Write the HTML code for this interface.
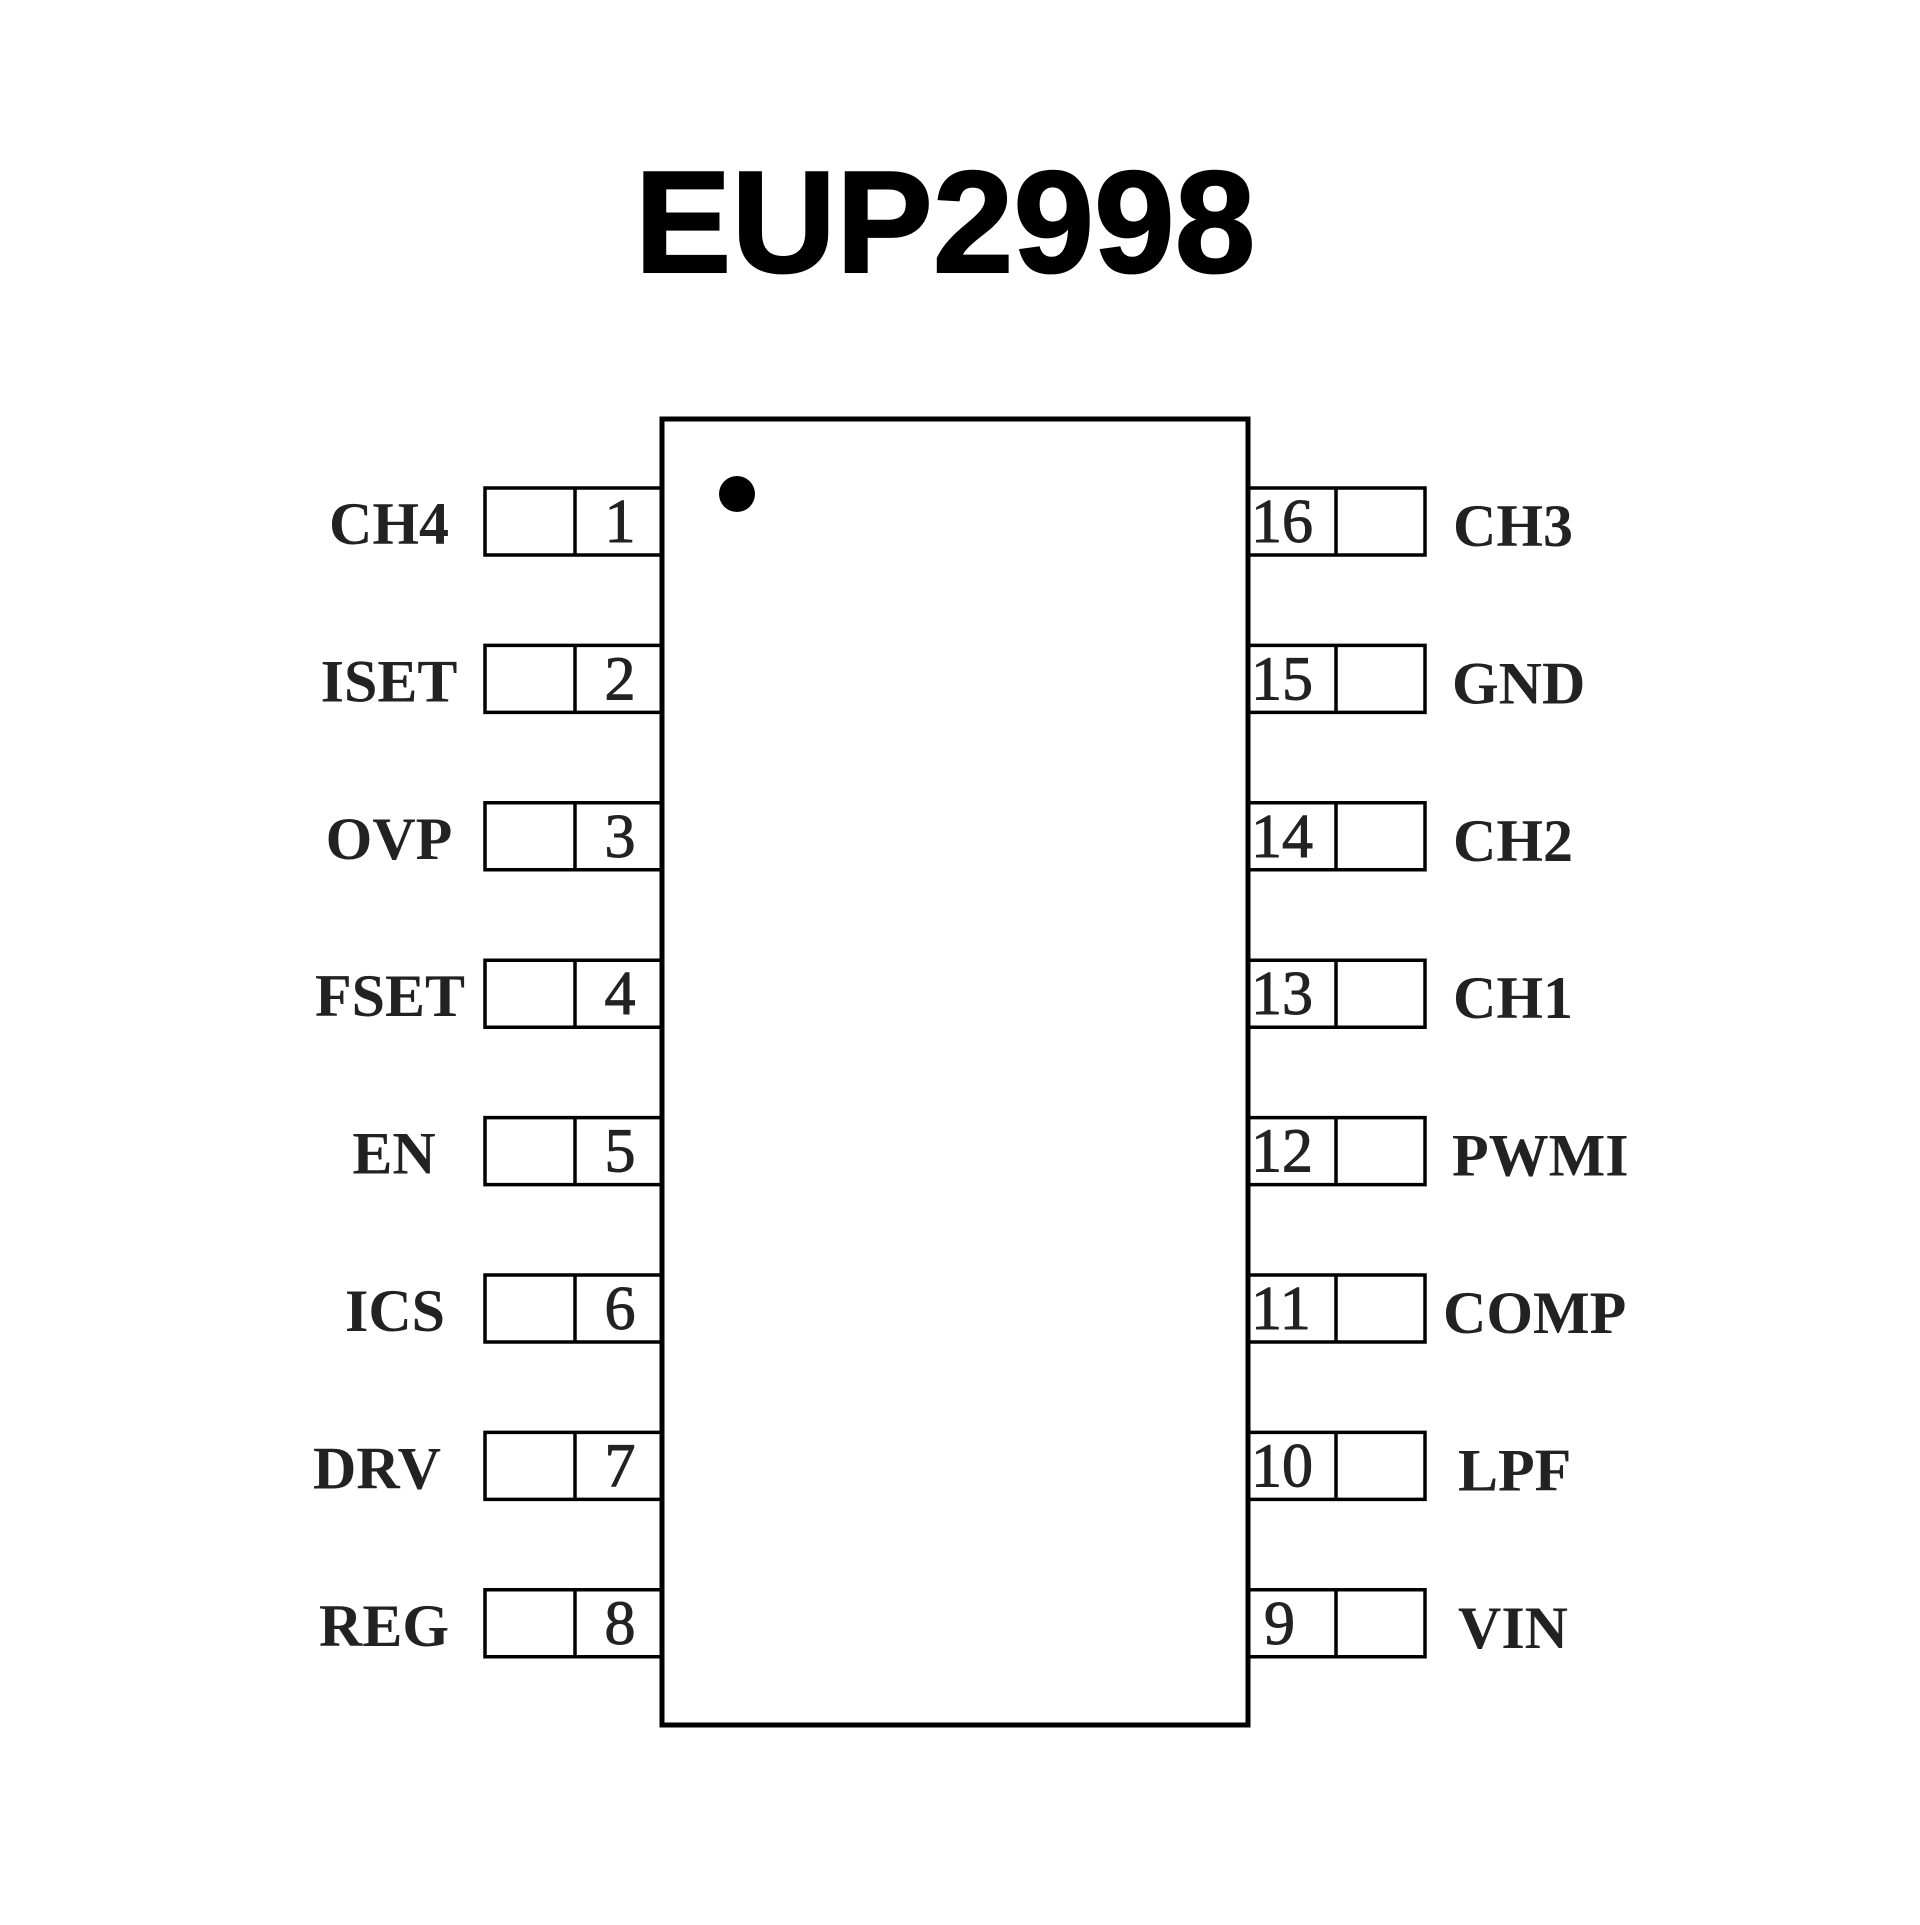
<!DOCTYPE html>
<html><head><style>html,body{margin:0;padding:0;background:#fff}</style></head>
<body>
<svg width="1920" height="1920" viewBox="0 0 1920 1920" xmlns="http://www.w3.org/2000/svg">
<rect width="1920" height="1920" fill="#fff"/>
<text x="945" y="272" text-anchor="middle" font-family="Liberation Sans, sans-serif" font-weight="bold" font-size="145" fill="#000" stroke="#000" stroke-width="2">EUP2998</text>
<rect x="662" y="419" width="586" height="1306" fill="none" stroke="#000" stroke-width="5"/>
<circle cx="737" cy="494" r="18" fill="#000"/>
<script>
var ns="http://www.w3.org/2000/svg",s=document.querySelector('svg');
var L=["CH4","ISET","OVP","FSET","EN","ICS","DRV","REG"],Lc=[389,389,389,390,394,395,377,384];
var R=["CH3","GND","CH2","CH1","PWMI","COMP","LPF","VIN"],Rx=[1453,1452,1453,1453,1452,1443,1458,1458];
function el(t,a,txt){var e=document.createElementNS(ns,t);for(var k in a)e.setAttribute(k,a[k]);if(txt)e.textContent=txt;s.appendChild(e);return e;}
for(var i=0;i<8;i++){var y=488+i*157.4;
el('path',{d:'M662 '+y+' H485 V'+(y+67)+' H662 M575 '+y+' V'+(y+67),stroke:'#000','stroke-width':3.5,fill:'none'});
el('path',{d:'M1248 '+y+' H1425 V'+(y+67)+' H1248 M1336 '+y+' V'+(y+67),stroke:'#000','stroke-width':3.5,fill:'none'});
var f={'font-family':'Liberation Serif, serif','font-weight':'bold','font-size':60,fill:'#222'};
var a=Object.assign({x:Lc[i],y:y+56,'text-anchor':'middle'},f);el('text',a,L[i]);
a=Object.assign({x:Rx[i],y:y+58},f);el('text',a,R[i]);
var g={'font-family':'Liberation Serif, serif','font-size':62,fill:'#222',stroke:'#222','stroke-width':1};
a=Object.assign({x:620,y:y+54,'text-anchor':'middle'},g);el('text',a,String(i+1));
a=Object.assign({x:(i==7?1264:1251),y:y+54},g);el('text',a,String(16-i));}
</script>
</svg>
</body></html>
